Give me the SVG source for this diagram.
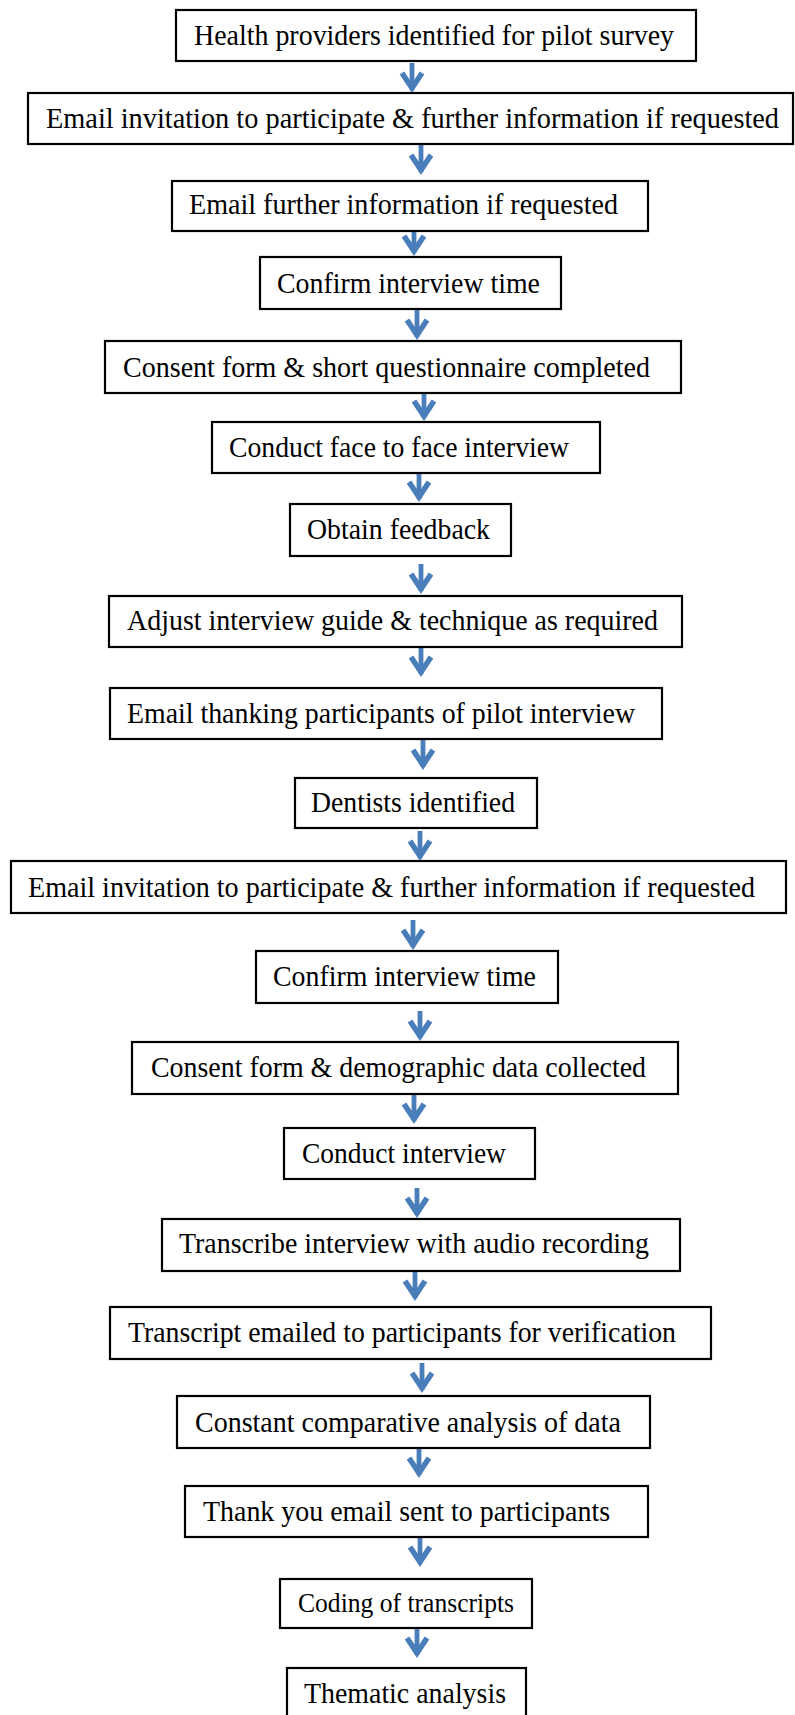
<svg xmlns="http://www.w3.org/2000/svg" width="795" height="1715" viewBox="0 0 795 1715">
  <style>
    .box rect { fill: #ffffff; stroke: #000000; stroke-width: 2.2; }
    .box text { font-family: "Liberation Serif", "Times New Roman", serif; font-size: 29px; fill: #000000; }
    .box text.sm { font-size: 27px; }
    .arrow { fill: none; stroke: #4a7ebb; }
    .arrow .shaft { stroke-width: 4.8; }
    .arrow .head { stroke-width: 5.5; stroke-linejoin: miter; stroke-miterlimit: 10; }
  </style>
  <defs>
    <!-- downward arrow, 31px tall, origin at top of shaft -->
    <g id="down" class="arrow">
      <path class="shaft" d="M0,0 V27"/>
      <path class="head" d="M-10,10 L0,25 L10,10"/>
    </g>
  </defs>
  <rect width="795" height="1715" fill="#ffffff"/>

  <g id="connectors">
    <use href="#down" x="412" y="63"/>
    <use href="#down" x="421" y="145"/>
    <use href="#down" x="414" y="226"/>
    <use href="#down" x="417" y="310"/>
    <use href="#down" x="424" y="391"/>
    <use href="#down" x="419" y="472"/>
    <use href="#down" x="421" y="564"/>
    <use href="#down" x="421" y="647"/>
    <use href="#down" x="423" y="740"/>
    <use href="#down" x="420" y="831"/>
    <use href="#down" x="413" y="920"/>
    <use href="#down" x="420" y="1011"/>
    <use href="#down" x="414" y="1094"/>
    <use href="#down" x="417" y="1188"/>
    <use href="#down" x="415" y="1271"/>
    <use href="#down" x="422" y="1363"/>
    <use href="#down" x="419" y="1448"/>
    <use href="#down" x="420" y="1537"/>
    <use href="#down" x="417" y="1628"/>
  </g>

  <g id="n1" class="box"><rect x="176" y="10" width="520" height="51"/><text x="194" y="45" textLength="480" lengthAdjust="spacingAndGlyphs">Health providers identified  for pilot survey</text></g>
  <g id="n2" class="box"><rect x="28" y="93" width="765" height="51"/><text x="46" y="128" textLength="733" lengthAdjust="spacingAndGlyphs">Email invitation to participate &amp; further information  if requested</text></g>
  <g id="n3" class="box"><rect x="172" y="181" width="476" height="50"/><text x="189" y="214" textLength="429" lengthAdjust="spacingAndGlyphs">Email further information if requested</text></g>
  <g id="n4" class="box"><rect x="260" y="257" width="301" height="52"/><text x="277" y="293" textLength="263" lengthAdjust="spacingAndGlyphs">Confirm interview time</text></g>
  <g id="n5" class="box"><rect x="105" y="341" width="576" height="52"/><text x="123" y="377" textLength="527" lengthAdjust="spacingAndGlyphs">Consent form &amp; short questionnaire completed</text></g>
  <g id="n6" class="box"><rect x="212" y="422" width="388" height="51"/><text x="229" y="457" textLength="340" lengthAdjust="spacingAndGlyphs">Conduct face to face interview</text></g>
  <g id="n7" class="box"><rect x="290" y="504" width="221" height="52"/><text x="307" y="539" textLength="183" lengthAdjust="spacingAndGlyphs">Obtain feedback</text></g>
  <g id="n8" class="box"><rect x="109" y="596" width="573" height="51"/><text x="127" y="630" textLength="531" lengthAdjust="spacingAndGlyphs">Adjust interview guide &amp; technique as required</text></g>
  <g id="n9" class="box"><rect x="110" y="688" width="552" height="51"/><text x="127" y="723" textLength="508" lengthAdjust="spacingAndGlyphs">Email thanking participants of pilot interview</text></g>
  <g id="n10" class="box"><rect x="295" y="778" width="242" height="50"/><text x="311" y="812" textLength="204" lengthAdjust="spacingAndGlyphs">Dentists identified</text></g>
  <g id="n11" class="box"><rect x="11" y="861" width="775" height="52"/><text x="28" y="897" textLength="727" lengthAdjust="spacingAndGlyphs">Email invitation to participate &amp; further information if requested</text></g>
  <g id="n12" class="box"><rect x="256" y="951" width="302" height="52"/><text x="273" y="986" textLength="263" lengthAdjust="spacingAndGlyphs">Confirm interview time</text></g>
  <g id="n13" class="box"><rect x="132" y="1042" width="546" height="52"/><text x="151" y="1077" textLength="495" lengthAdjust="spacingAndGlyphs">Consent form &amp; demographic data collected</text></g>
  <g id="n14" class="box"><rect x="284" y="1128" width="251" height="51"/><text x="302" y="1163" textLength="204" lengthAdjust="spacingAndGlyphs">Conduct interview</text></g>
  <g id="n15" class="box"><rect x="162" y="1219" width="518" height="52"/><text x="179" y="1253" textLength="470" lengthAdjust="spacingAndGlyphs">Transcribe interview with audio recording</text></g>
  <g id="n16" class="box"><rect x="110" y="1307" width="601" height="52"/><text x="128" y="1342" textLength="548" lengthAdjust="spacingAndGlyphs">Transcript emailed to participants for verification</text></g>
  <g id="n17" class="box"><rect x="177" y="1396" width="473" height="52"/><text x="195" y="1432" textLength="426" lengthAdjust="spacingAndGlyphs">Constant comparative analysis of data</text></g>
  <g id="n18" class="box"><rect x="185" y="1486" width="463" height="51"/><text x="203" y="1521" textLength="407" lengthAdjust="spacingAndGlyphs">Thank you email sent to participants</text></g>
  <g id="n19" class="box"><rect x="280" y="1579" width="252" height="49"/><text class="sm" x="298" y="1612" textLength="216" lengthAdjust="spacingAndGlyphs">Coding of transcripts</text></g>
  <g id="n20" class="box"><rect x="287" y="1668" width="239" height="60"/><text x="304" y="1703" textLength="202" lengthAdjust="spacingAndGlyphs">Thematic analysis</text></g>
</svg>
